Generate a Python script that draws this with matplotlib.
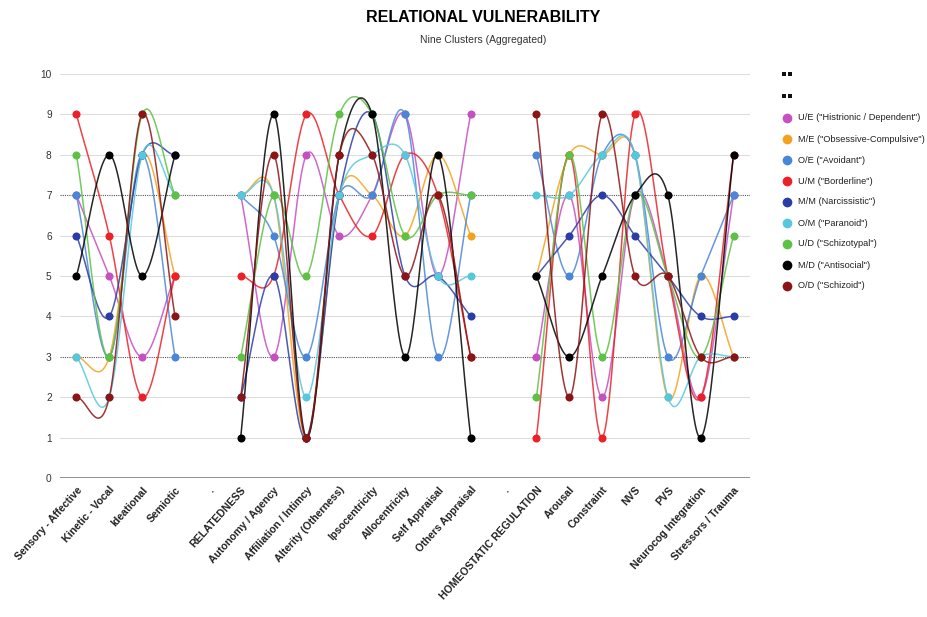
import numpy as np
import matplotlib
matplotlib.use("Agg")
import matplotlib.pyplot as plt
from matplotlib.lines import Line2D

plt.rcParams["font.family"] = ["Liberation Sans", "DejaVu Sans"]

categories = ["Sensory - Affective", "Kinetic - Vocal", "Ideational", "Semiotic", ".",
              "RELATEDNESS", "Autonomy / Agency", "Affiliation / Intimcy", "Alterity (Otherness)",
              "Ipsocentricity", "Allocentricity", "Self Appraisal", "Others Appraisal", ".",
              "HOMEOSTATIC REGULATION", "Arousal", "Constraint", "NVS", "PVS",
              "Neurocog Integration", "Stressors / Trauma"]

ue = [7, 5, 3, 5, None, 7, 3, 8, 6, 7, 9, 5, 9, None, 3, 7, 2, 7, 5, 2, 7]
me = [3, 3, 8, 5, None, 7, 7, 1, 7, 7, 6, 8, 6, None, 5, 8, 8, 8, 2, 5, 3]
oe = [7, 3, 8, 3, None, 7, 6, 3, 7, 7, 9, 3, 7, None, 8, 5, 8, 8, 3, 5, 7]
um = [9, 6, 2, 5, None, 5, 5, 9, 7, 6, 8, 7, 3, None, 1, 8, 1, 9, 5, 2, 8]
mm = [6, 4, 8, 8, None, 2, 5, 1, 7, 9, 5, 5, 4, None, 5, 6, 7, 6, 5, 4, 4]
om = [3, 2, 8, 7, None, 7, 7, 2, 7, 8, 8, 5, 5, None, 7, 7, 8, 8, 2, 3, 3]
ud = [8, 3, 9, 7, None, 3, 7, 5, 9, 9, 6, 7, 7, None, 2, 8, 3, 7, 5, 3, 6]
md = [5, 8, 5, 8, None, 1, 9, 1, 8, 9, 3, 8, 1, None, 5, 3, 5, 7, 7, 1, 8]
od = [2, 2, 9, 4, None, 2, 8, 1, 8, 8, 5, 7, 3, None, 9, 2, 9, 5, 5, 3, 3]

series_labels = ['U/E ("Histrionic / Dependent")', 'M/E ("Obsessive-Compulsive")',
                 'O/E ("Avoidant")', 'U/M ("Borderline")', 'M/M (Narcissistic")',
                 'O/M ("Paranoid")', 'U/D ("Schizotypal")', 'M/D ("Antisocial")',
                 'O/D ("Schizoid")']
series_values = [ue, me, oe, um, mm, om, ud, md, od]
colors = ["#c64fc2", "#f4a21e", "#4a86d8", "#ea2228", "#2a3ca6",
          "#55c8e0", "#5cc144", "#000000", "#8c1414"]


def smooth(xs, ys, n=30):
    # catmull-rom through a run of points, one-sided tangents at the ends
    xs = np.asarray(xs, float)
    ys = np.asarray(ys, float)
    k = len(ys)
    m = np.zeros(k)
    for i in range(k):
        if k == 1:
            m[i] = 0
        elif i == 0:
            m[i] = ys[1] - ys[0]
        elif i == k - 1:
            m[i] = ys[-1] - ys[-2]
        else:
            m[i] = (ys[i + 1] - ys[i - 1]) / 2
    ox, oy = [], []
    for i in range(k - 1):
        t = np.linspace(0, 1, n)
        h00 = 2 * t**3 - 3 * t**2 + 1
        h10 = t**3 - 2 * t**2 + t
        h01 = -2 * t**3 + 3 * t**2
        h11 = t**3 - t**2
        oy.extend(h00 * ys[i] + h10 * m[i] + h01 * ys[i + 1] + h11 * m[i + 1])
        ox.extend(xs[i] + t * (xs[i + 1] - xs[i]))
    return ox, oy


fig = plt.figure(figsize=(9.28, 6.17), dpi=100)
ax = fig.add_axes([60 / 928, 1 - 478 / 617, 690 / 928, 404 / 617])

for v in range(11):
    if v in (3, 7):
        ax.axhline(v, color="#555555", lw=0.8, ls=(0, (1, 1)), zorder=0)
    elif v == 0:
        ax.axhline(v, color="#888888", lw=1.3, zorder=0)
    else:
        ax.axhline(v, color="#dddddd", lw=0.8, zorder=0)

x = np.arange(len(categories))
for vals, col in zip(series_values, colors):
    run_x, run_y = [], []
    for xi, yi in list(zip(x, vals)) + [(None, None)]:
        if yi is None:
            if run_x:
                sx, sy = smooth(run_x, run_y)
                ax.plot(sx, sy, color=col, lw=1.1, alpha=0.85, zorder=2)
                ax.plot(run_x, run_y, "o", color=col, ms=5.8, mew=0, zorder=3)
            run_x, run_y = [], []
        else:
            run_x.append(xi)
            run_y.append(yi)

ax.set_xlim(-0.5, len(categories) - 0.5)
ax.set_ylim(0, 10)
ax.set_yticks(range(11))
ax.set_yticklabels([str(v) for v in range(11)], fontsize=7.3, color="#333333")
ax.set_xticks(x)
ax.set_xticklabels(categories, rotation=48, ha="right", rotation_mode="anchor",
                   fontsize=7.6, fontweight="bold", color="#222222")
ax.tick_params(axis="y", length=0, pad=6)
ax.tick_params(axis="x", length=0, pad=5)
for s in ax.spines.values():
    s.set_visible(False)

fig.text(483 / 928, 1 - 17 / 617, "RELATIONAL VULNERABILITY", ha="center", va="center",
         fontsize=11.5, fontweight="bold")
fig.text(483 / 928, 1 - 40 / 617, "Nine Clusters (Aggregated)", ha="center", va="center",
         fontsize=7.5, color="#333333")

# legend
for yy in (74, 96):
    fig.add_artist(Line2D([784 / 928, 790 / 928], [1 - yy / 617] * 2, ls="none",
                          marker="s", color="#111111", ms=2.2, mew=0,
                          transform=fig.transFigure))
for i, (lab, col) in enumerate(zip(series_labels, colors)):
    yy = 1 - (118 + i * 21) / 617
    fig.add_artist(Line2D([787 / 928], [yy], marker="o", color=col, ms=7, mew=0,
                          transform=fig.transFigure))
    fig.text(798 / 928, yy, lab, fontsize=6.7, va="center", ha="left", color="#222222")

fig.savefig("out.png", dpi=100)
